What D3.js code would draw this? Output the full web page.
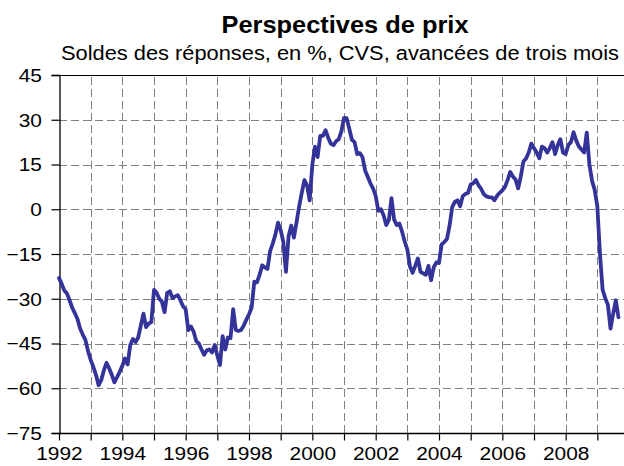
<!DOCTYPE html>
<html>
<head>
<meta charset="utf-8">
<script src="https://cdn.jsdelivr.net/npm/d3@7"></script>
<style>
  html, body { margin: 0; padding: 0; background: #fff; }
  svg { display: block; font-family: "Liberation Sans", Arial, sans-serif; }
</style>
</head>
<body>
<svg id="chart" width="624" height="466"></svg>
<script>
// Soldes mensuels, de janvier 1992 à septembre 2009
const startYear = 1992;
const values = [
  -23, -25, -27.2, -28.2, -30.5, -33, -34.8, -36.8, -40, -42, -43.8, -47.5,
  -50.5, -52.8, -55.5, -59, -57.3, -54, -51.5, -53.3, -55.5, -58, -56.3, -54.5,
  -52.5, -50, -52, -45.5, -43.5, -44.5, -43, -39, -35, -39.5, -38.3, -37.8,
  -27, -28, -30, -31, -34.5, -28, -27.5, -29.8, -29.2, -28.8, -30.5, -32.5,
  -33.5, -40.5, -39.3, -41, -44.2, -45, -47, -48.8, -47.3, -47, -48, -45.5,
  -49, -52.2, -42.5, -47, -43, -43.2, -33.5, -40.5, -40.8, -40.5, -39, -37,
  -35.2, -33, -24.3, -24.5, -22, -18.8, -19.5, -20, -14, -11.5, -8.5, -4.5,
  -7, -10.9, -21, -9, -5.5, -9.5, -4.5, 1, 5.5, 9.8, 8, 3,
  14.9, 21, 17.5, 24.6, 24.6, 26.5, 24, 22, 21.5, 22.8, 23.5, 26,
  30.6, 30.5, 27, 23.3, 22.5, 18.5, 18.8, 17.5, 13, 10.9, 8.7, 7,
  4.5, -0.5, 0, -2, -5.3, -3.6, 3.7, -3.5, -5.3, -4.8, -7.5, -10.8,
  -13.5, -19.2, -21.3, -19, -16.5, -21, -21.5, -22, -19, -23.8, -19.5, -17.8,
  -18, -11.8, -11, -10, -5.5, 0.7, 2.5, 3, 1, 4.4, 5.1, 5.5,
  8.3, 8.7, 9.8, 8, 6.8, 5, 4.3, 4, 4, 3, 4.5, 5.5,
  6.3, 7.5, 9.8, 12.5, 11, 10, 7, 11, 16, 17, 19, 22,
  20.5, 19, 17.1, 21, 20.5, 19, 20.5, 22.5, 18.5, 21.5, 23.5, 19,
  18.5, 21.5, 22.5, 25.8, 23, 21, 20, 19, 25.7, 15, 9.5, 6.5,
  1, -15, -27, -29.8, -32, -40, -35, -30.5, -36.2
];
const yTicks = [-75, -60, -45, -30, -15, 0, 15, 30, 45];
const yearTicks = d3.range(1992, 2011);
const yearLabels = [1992, 1994, 1996, 1998, 2000, 2002, 2004, 2006, 2008];

const title = "Perspectives de prix";
const subtitle = "Soldes des réponses, en %, CVS, avancées de trois mois";

const svg = d3.select("#chart");
const plotLeft = 59, plotRight = 629, plotTop = 75, plotBottom = 433;
const stretch = 1.1; // le graphique d'origine est un peu étiré en largeur

const x = d3.scaleLinear().domain([1992, 2010]).range([plotLeft, plotRight]);
const y = d3.scaleLinear().domain([-75, 45]).range([plotBottom, plotTop]);

const data = values.map((v, i) => ({ t: startYear + i / 12, v: v }));

// grille
svg.append("g")
  .selectAll("line")
  .data(yTicks.filter(d => d > -75 && d < 45))
  .join("line")
  .attr("x1", plotLeft).attr("x2", plotRight)
  .attr("y1", d => Math.round(y(d)) + 0.5).attr("y2", d => Math.round(y(d)) + 0.5)
  .attr("stroke", "#808080")
  .attr("stroke-dasharray", "8,4");

svg.append("g")
  .selectAll("line")
  .data(yearTicks.filter(d => d > 1992))
  .join("line")
  .attr("x1", d => Math.round(x(d)) + 0.5).attr("x2", d => Math.round(x(d)) + 0.5)
  .attr("y1", plotTop + 2).attr("y2", plotBottom)
  .attr("stroke", "#808080")
  .attr("stroke-dasharray", "8,4");

// bord supérieur
svg.append("line")
  .attr("x1", plotLeft).attr("x2", plotRight)
  .attr("y1", plotTop + 0.5).attr("y2", plotTop + 0.5)
  .attr("stroke", "#000");

// axes
const yAxis = svg.append("g")
  .attr("transform", `translate(${plotLeft + 0.5},0)`)
  .call(d3.axisLeft(y).tickValues(yTicks).tickSize(8).tickPadding(8).tickFormat(d3.format("d")));

const xAxis = svg.append("g")
  .attr("transform", `translate(0,${plotBottom + 0.5})`)
  .call(d3.axisBottom(x).tickValues(yearTicks).tickSize(7).tickPadding(6)
    .tickFormat(d => yearLabels.includes(d) ? d : ""));

[yAxis, xAxis].forEach(a => {
  a.select(".domain").attr("stroke", "#000").attr("stroke-width", 1.3);
  a.selectAll(".tick line").attr("stroke", "#000").attr("stroke-width", 1.2);
  a.selectAll(".tick text")
    .attr("fill", "#000")
    .attr("transform", `scale(${stretch},1)`)
    .style("font-size", "19px")
    .style("font-family", "'Liberation Sans', Arial, sans-serif");
});
yAxis.selectAll(".tick text").attr("dy", "0.34em");
xAxis.select(".domain").attr("d", `M${plotLeft},0H${plotRight}`);

// série
const line = d3.line()
  .x(d => x(d.t))
  .y(d => y(d.v));

svg.append("path")
  .datum(data)
  .attr("fill", "none")
  .attr("stroke", "#333399")
  .attr("stroke-width", 3.8)
  .attr("stroke-linejoin", "round")
  .attr("stroke-linecap", "round")
  .attr("d", line);

// titres
svg.append("text")
  .attr("x", 345).attr("y", 33)
  .attr("text-anchor", "middle")
  .attr("font-weight", "bold")
  .attr("textLength", 247)
  .attr("lengthAdjust", "spacingAndGlyphs")
  .style("font-size", "23px")
  .text(title);

svg.append("text")
  .attr("x", 340).attr("y", 60)
  .attr("text-anchor", "middle")
  .attr("textLength", 558)
  .attr("lengthAdjust", "spacingAndGlyphs")
  .style("font-size", "20px")
  .text(subtitle);
</script>
</body>
</html>
